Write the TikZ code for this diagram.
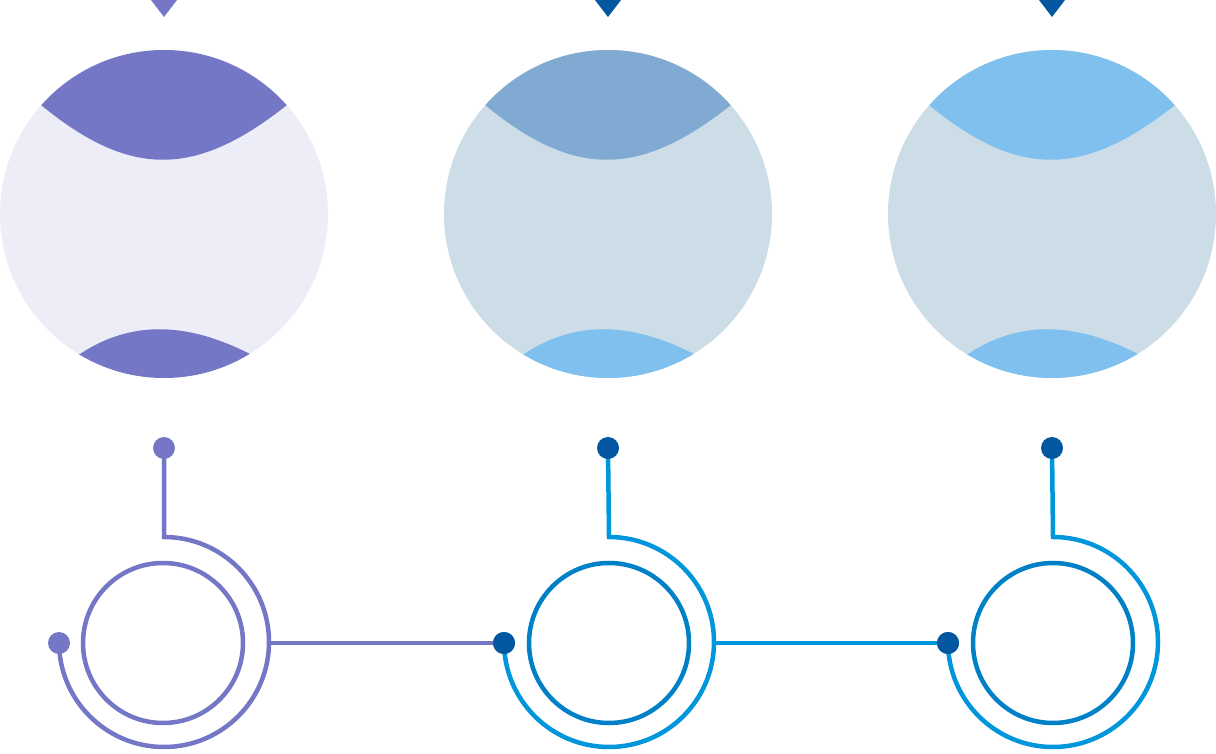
\documentclass[tikz,border=0pt]{standalone}
\definecolor{purp}{HTML}{7377C5}
\definecolor{lav}{HTML}{EDEDF8}
\definecolor{bgrey}{HTML}{CCDDE8}
\definecolor{captwo}{HTML}{80AAD1}
\definecolor{capblue}{HTML}{7FC0EE}
\definecolor{dblue}{HTML}{0357A0}
\definecolor{bblue}{HTML}{0096DC}
\definecolor{iblue}{HTML}{0080C6}
\tikzset{
  dotnode/.style={circle,inner sep=0pt,minimum size=22pt,fill=#1},
  ring/.style={circle,inner sep=0pt,minimum size=160pt,draw=#1,line width=4.5pt},
  wire/.style={draw=#1,line width=4.5pt},
}
\begin{document}
\begin{tikzpicture}[x=1pt,y=1pt]
\useasboundingbox (0,0) rectangle (1216,753);
% top triangles
\fill[purp] (151,753) -- (177,753) -- (164,736) -- cycle;
\fill[dblue] (595,753) -- (621,753) -- (608,736) -- cycle;
\fill[dblue] (1039,753) -- (1065,753) -- (1052,736) -- cycle;
% big circles with caps
\foreach \cx/\bg/\ct/\cb in {164/lav/purp/purp, 608/bgrey/captwo/capblue, 1052/bgrey/capblue/capblue}{
  \begin{scope}[shift={(\cx-164,0)}]
    \fill[\bg] (164,539) circle[radius=164pt];
    \begin{scope}
      \clip (164,539) circle[radius=164pt];
      \fill[\ct] (-10,648) -- (41,648) .. controls (130,575) and (195,575) .. (287,648) -- (340,648) -- (340,720) -- (-10,720) -- cycle;
      \fill[\cb] (-10,399) -- (80,399) .. controls (130,432) and (185,432) .. (250,399) -- (340,399) -- (340,360) -- (-10,360) -- cycle;
    \end{scope}
  \end{scope}
}
% group 1
\node[ring=purp] (r1) at (163,110) {};
\coordinate (a1) at (164,216);
\coordinate (e1) at (269,110);
\draw[wire=purp] (164,305) -- (a1) arc[start angle=90,end angle=-180,radius=105pt];
\node[dotnode=purp] (t1) at (164,305) {};
\node[dotnode=purp] (l1) at (59,110) {};
% group 2
\node[ring=iblue] (r2) at (609,110) {};
\coordinate (a2) at (609,216);
\coordinate (e2) at (714,110);
\draw[wire=bblue] (608,305) -- (a2) arc[start angle=90,end angle=-180,radius=105pt];
% group 3
\node[ring=iblue] (r3) at (1053,110) {};
\coordinate (a3) at (1053,216);
\coordinate (e3) at (1158,110);
\draw[wire=bblue] (1052,305) -- (a3) arc[start angle=90,end angle=-180,radius=105pt];
% connectors
\node[dotnode=dblue] (l2) at (504,110) {};
\node[dotnode=dblue] (l3) at (948,110) {};
\draw[wire=purp] (e1) -- (l2);
\draw[wire=bblue] (e2) -- (l3);
\node[dotnode=dblue] (l2) at (504,110) {};
\node[dotnode=dblue] (l3) at (948,110) {};
\node[dotnode=dblue] (t2) at (608,305) {};
\node[dotnode=dblue] (t3) at (1052,305) {};
\end{tikzpicture}
\end{document}
